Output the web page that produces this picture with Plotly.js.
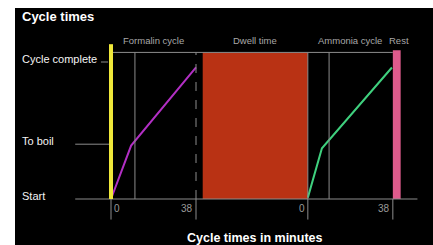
<!DOCTYPE html>
<html>
<head>
<meta charset="utf-8">
<script src="https://cdn.plot.ly/plotly-3.0.1.min.js"></script>
<style>
html,body{margin:0;padding:0;background:#fff;width:433px;height:245px;overflow:hidden;}
#chart{position:absolute;left:15px;top:8px;width:418px;height:237px;}
</style>
</head>
<body>
<div id="chart"></div>
<script>
// ---- data ----
const phases = ['Formalin cycle', 'Dwell time', 'Ammonia cycle', 'Rest'];
const phaseStart = [0, 41, 88, 126];
const phaseEnd = [38, 88, 126, 129.5];
const levelLabels = ['Start', 'To boil', 'Cycle complete'];
const levelValues = [0, 40, 100];
const formalinMin = [0, 9, 38];
const formalinLevel = [0, 39, 96];
const ammoniaMin = [0, 6.3, 37.6];
const ammoniaLevel = [1, 37, 96];
const markMin = [10.7, 9.5];          // gray marker within each cycle
const tickText = ['0', '38', '0', '38'];
const tickPos = [phaseStart[0], phaseEnd[0], phaseStart[2], phaseEnd[2]];

const gray = '#8c8c8c';
const font = 'Liberation Sans, Arial, sans-serif';
const frameTop = 107;

const traces = [
  {x: formalinMin.map(v => v + phaseStart[0]), y: formalinLevel, mode: 'lines',
   line: {color: '#b22fc4', width: 2}, hoverinfo: 'skip'},
  {x: ammoniaMin.map(v => v + phaseStart[2]), y: ammoniaLevel, mode: 'lines',
   line: {color: '#3fd07e', width: 2}, hoverinfo: 'skip'}
];

const shapes = [
  // dwell and rest blocks
  {type: 'rect', x0: phaseStart[1], x1: phaseEnd[1], y0: 0, y1: frameTop, fillcolor: '#b93214', line: {width: 0}, layer: 'below'},
  {type: 'rect', x0: phaseStart[3], x1: phaseEnd[3], y0: 0, y1: 108.5, fillcolor: '#de5b8c', line: {width: 0}, layer: 'below'},
  // frame lines
  {type: 'line', x0: phaseStart[0], x1: phaseStart[3], y0: frameTop, y1: frameTop, line: {color: gray, width: 1}},
  {type: 'line', x0: -16, x1: 137, y0: 0, y1: 0, line: {color: gray, width: 1}},
  {type: 'line', x0: -16, x1: 0, y0: levelValues[1], y1: levelValues[1], line: {color: gray, width: 1}},
  {type: 'line', x0: -4.5, x1: -1.3, y0: levelValues[2], y1: levelValues[2], line: {color: gray, width: 1}},
  // vertical markers
  {type: 'line', x0: phaseStart[0] + markMin[0], x1: phaseStart[0] + markMin[0], y0: 0, y1: frameTop, line: {color: gray, width: 1}},
  {type: 'line', x0: phaseStart[2] + markMin[1], x1: phaseStart[2] + markMin[1], y0: 0, y1: frameTop, line: {color: gray, width: 1}},
  {type: 'line', x0: phaseEnd[0], x1: phaseEnd[0], y0: 0, y1: frameTop, line: {color: gray, width: 1, dash: 'dash'}},
  {type: 'line', x0: phaseStart[2], x1: phaseStart[2], y0: 0, y1: frameTop, line: {color: gray, width: 1}},
  // start marker (yellow)
  {type: 'line', x0: 0, x1: 0, y0: 0, y1: 113, line: {color: '#efe83a', width: 4}}
];
// bottom ticks
tickPos.forEach((p, i) => {
  shapes.push({type: 'line', x0: p, x1: p, y0: -15, y1: 0, line: {color: gray, width: 1}});
});

const annotations = [];
annotations.push({x: -39.8, xshift: -2, y: 133.6, yshift: -1, xanchor: 'left', yanchor: 'middle', showarrow: false,
  text: '<b>Cycle times</b>', font: {family: font, size: 13, color: '#ffffff'}});
annotations.push({x: 64.4, y: -30, yshift: 2, xanchor: 'center', yanchor: 'middle', showarrow: false,
  text: '<b>Cycle times in minutes</b>', font: {family: font, size: 12.5, color: '#ffffff'}});
levelLabels.forEach((t, i) => {
  annotations.push({x: -39.8, xshift: -2, y: levelValues[i], yshift: 3, xanchor: 'left', yanchor: 'middle', showarrow: false,
    text: t, font: {family: font, size: 11, color: '#f4f4f4'}});
});
phases.forEach((t, i) => {
  annotations.push({x: (phaseStart[i] + phaseEnd[i]) / 2 + (i === 3 ? 1 : 0), y: 116, xanchor: 'center', yanchor: 'middle', showarrow: false,
    text: t, font: {family: font, size: 9.5, color: '#a8a8a8'}});
});
tickText.forEach((t, i) => {
  annotations.push({x: tickPos[i], y: -7, xanchor: i === 0 ? 'left' : 'right', xshift: i === 0 ? 1 : -1,
    yanchor: 'middle', showarrow: false, text: t, font: {family: font, size: 10, color: '#999999'}});
});

const layout = {
  width: 418, height: 237,
  margin: {l: 0, r: 0, t: 0, b: 0, pad: 0},
  paper_bgcolor: '#000000', plot_bgcolor: '#000000',
  showlegend: false,
  xaxis: {range: [-42.92, 143.96], visible: false, fixedrange: true},
  yaxis: {range: [-33.58, 139.42], visible: false, fixedrange: true},
  shapes: shapes,
  annotations: annotations
};

Plotly.newPlot('chart', traces, layout, {staticPlot: true, displayModeBar: false});
</script>
</body>
</html>
